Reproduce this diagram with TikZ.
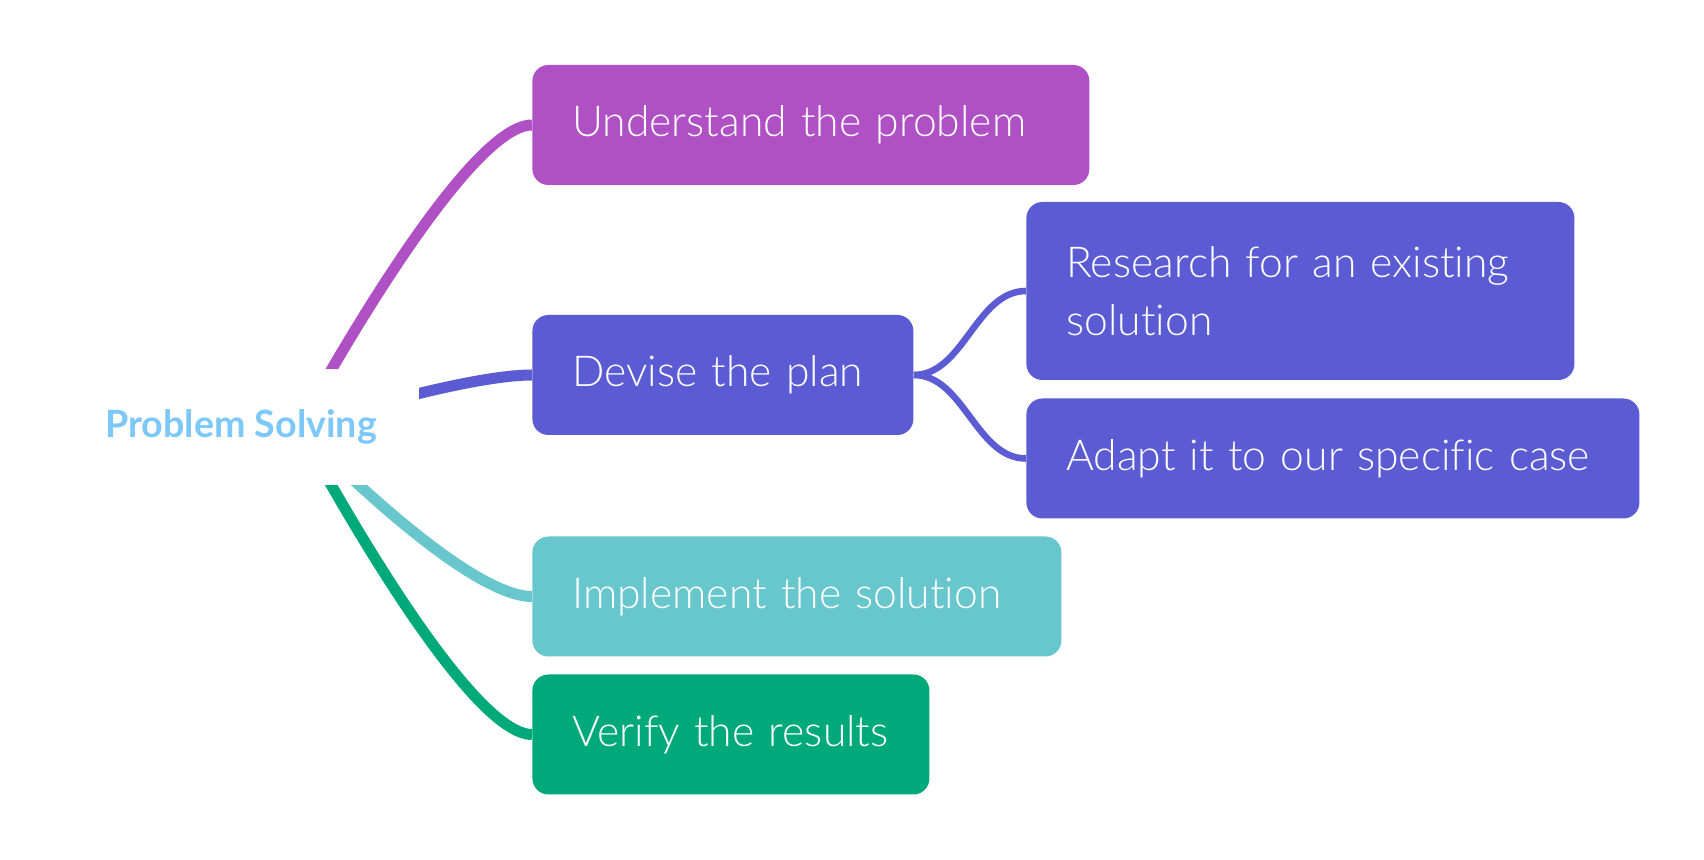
\documentclass[tikz,border=0pt]{standalone}
\usepackage{fontspec}
\setmainfont{Lato Light}[Ligatures=NoCommon]
\newfontfamily\rootfont{Lato}
\usetikzlibrary{positioning}

\definecolor{undcol}{HTML}{AF50C5}
\definecolor{devcol}{HTML}{5B5BD3}
\definecolor{impcol}{HTML}{68C7CD}
\definecolor{vercol}{HTML}{00A97A}
\definecolor{rootcol}{HTML}{7CC8F8}

\begin{document}
\begin{tikzpicture}[x=0.5pt, y=-0.5pt,
        topic/.style={rounded corners=8pt, text=white, anchor=west, align=left,
            font=\fontsize{21.3}{28.8}\selectfont, inner xsep=20pt, inner ysep=0pt,
            minimum height=60pt, execute at begin node={\hyphenpenalty=10000\relax}},
        link/.style={line width=5.5pt},
        sublink/.style={line width=3.3pt}]
        \useasboundingbox (0,0) rectangle (1704,860);

        % boxes
        \node[topic, fill=undcol, text width=238.5pt] (und) at (532,125) {Understand the problem};
        \node[topic, fill=devcol, text width=150.5pt] (dev) at (532,375) {Devise the plan};
        \node[topic, fill=devcol, text width=234pt, minimum height=89pt] (res) at (1026,291) {Research for an existing\\solution};
        \node[topic, fill=devcol, text width=266.5pt] (ada) at (1026,458.5) {Adapt it to our specific case};
        \node[topic, fill=impcol, text width=224.5pt] (imp) at (532,596.5) {Implement the solution};
        \node[topic, fill=vercol, text width=158.5pt] (ver) at (532,734.5) {Verify the results};

        % links
        \coordinate (hub) at (299,427);
        \draw[link, draw=undcol] (hub) .. controls (hub) and ([xshift=-35pt]und.west) .. (und.west);
        \draw[link, draw=devcol] (hub) .. controls (hub) and ([xshift=-35pt]dev.west) .. (dev.west);
        \draw[link, draw=impcol] (hub) .. controls (hub) and ([xshift=-35pt]imp.west) .. (imp.west);
        \draw[link, draw=vercol] (hub) .. controls (hub) and ([xshift=-35pt]ver.west) .. (ver.west);
        \draw[sublink, draw=devcol] (dev.east) .. controls +(50,0) and +(-50,0) .. (res.west);
        \draw[sublink, draw=devcol] (dev.east) .. controls +(50,0) and +(-50,0) .. (ada.west);

        % root
        \node[fill=white, minimum width=178pt, minimum height=58pt, text=rootcol,
            font=\rootfont\bfseries\fontsize{18.8}{22}\selectfont] (root) at (241,427) {Problem Solving};
\end{tikzpicture}
\end{document}
